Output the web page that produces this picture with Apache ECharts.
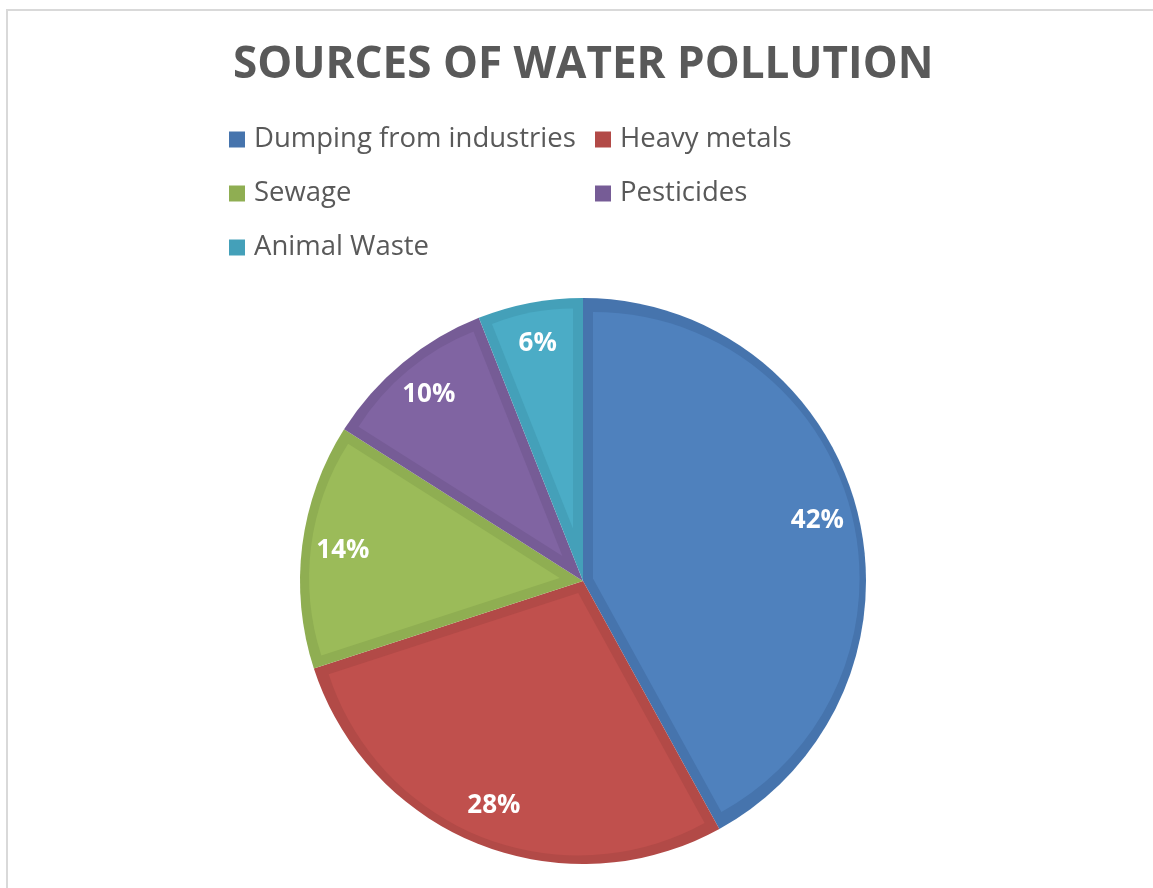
<!DOCTYPE html>
<html>
<head>
<meta charset="utf-8">
<script src="https://cdn.jsdelivr.net/npm/echarts@6/dist/echarts.min.js"></script>
<style>
  html, body { margin: 0; padding: 0; background: #fff; }
  #main { width: 1153px; height: 888px; }
</style>
</head>
<body>
<div id="main"></div>
<script>
// data
var categories = ['Dumping from industries', 'Heavy metals', 'Sewage', 'Pesticides', 'Animal Waste'];
var shares = [42, 28, 14, 10, 6];
// slice colours: light fill + darker rim
var fillColors = ['#4f81bd', '#c0504d', '#9bbb59', '#8064a2', '#4bacc6'];
var rimColors = ['#4674ad', '#b24a47', '#8fae52', '#765c96', '#44a0b9'];

var chart = echarts.init(document.getElementById('main'));

var center = [583, 581];
var outerR = 283;
var rim = 10;
var fontName = 'Open Sans';

var total = shares.reduce(function (a, b) { return a + b; }, 0);

// base pie: the dark rim colour everywhere
var series = [{
  name: 'rim',
  type: 'pie',
  center: center,
  radius: outerR,
  startAngle: 90,
  silent: true,
  animation: false,
  label: { show: false },
  labelLine: { show: false },
  emphasis: { disabled: true },
  data: categories.map(function (c, i) {
    return { name: c, value: shares[i], itemStyle: { color: rimColors[i] } };
  })
}];

// light part of each slice: same sector pushed out along its bisector,
// so both straight edges keep a rim of constant width
categories.forEach(function (c, i) {
  var half = Math.PI * shares[i] / total;
  var d = rim / Math.sin(half);
  var r = outerR - rim - d * (1 + Math.cos(half)) / 2;
  series.push({
    name: 'fill' + i,
    type: 'pie',
    center: center,
    radius: r,
    startAngle: 90,
    selectedMode: 'multiple',
    selectedOffset: d,
    silent: true,
    animation: false,
    label: { show: false },
    labelLine: { show: false },
    emphasis: { disabled: true },
    select: { itemStyle: { color: fillColors[i], borderWidth: 0 } },
    data: categories.map(function (n, j) {
      return {
        name: n,
        value: shares[j],
        selected: j === i,
        itemStyle: { color: j === i ? fillColors[i] : 'rgba(0,0,0,0)' }
      };
    })
  });
});

// labels only
series.push({
  name: 'labels',
  type: 'pie',
  center: center,
  radius: [195, outerR],
  startAngle: 90,
  silent: true,
  animation: false,
  itemStyle: { color: 'rgba(0,0,0,0)' },
  emphasis: { disabled: true },
  label: {
    show: true,
    position: 'inside',
    formatter: '{c}%',
    color: '#ffffff',
    fontFamily: fontName,
    fontWeight: 'bold',
    fontSize: 26
  },
  labelLine: { show: false },
  data: categories.map(function (c, i) {
    return { name: c, value: shares[i] };
  })
});

var option = {
  backgroundColor: '#ffffff',
  animation: false,
  title: {
    text: 'SOURCES OF WATER POLLUTION',
    left: 228,
    top: 38,
    textStyle: {
      fontFamily: fontName,
      fontWeight: 'bold',
      fontSize: 44,
      color: '#595959'
    }
  },
  legend: {
    data: categories,
    left: 224,
    top: 117,
    width: 760,
    itemWidth: 16,
    itemHeight: 16,
    itemGap: 19,
    icon: 'rect',
    selectedMode: false,
    textStyle: {
      fontFamily: fontName,
      fontSize: 27.5,
      color: '#595959',
      width: 322,
      lineHeight: 35,
      padding: [0, 0, 0, 4]
    }
  },
  graphic: [{
    type: 'rect',
    silent: true,
    shape: { x: 7, y: 10, width: 1200, height: 1000 },
    style: { fill: 'none', stroke: '#d9d9d9', lineWidth: 2 }
  }],
  series: series
};

chart.setOption(option);
</script>
</body>
</html>
